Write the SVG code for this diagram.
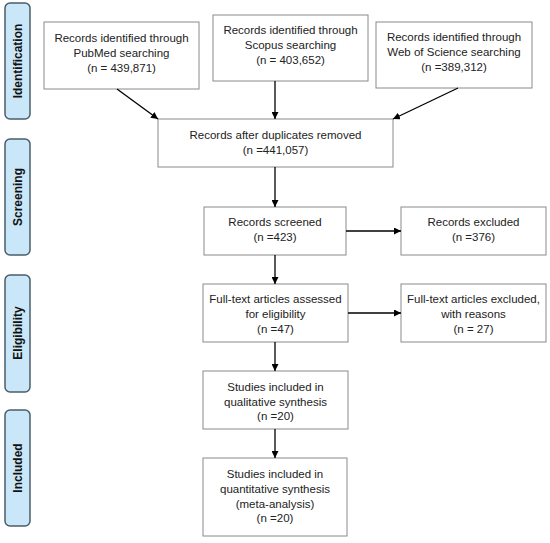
<svg xmlns="http://www.w3.org/2000/svg" width="550" height="543" viewBox="0 0 550 543">
<defs>
<marker id="ah" viewBox="0 0 10 10" refX="10" refY="5" markerWidth="7" markerHeight="7" orient="auto" markerUnits="userSpaceOnUse">
<path d="M0,0 L10,5 L0,10 z" fill="#000"/>
</marker>
<style>
.phase{fill:#c9e7f8;stroke:#4a5e6a;stroke-width:1.5}
.pt{font-family:"Liberation Sans",Arial,sans-serif;font-size:12px;font-weight:bold;fill:#111;text-anchor:middle}
.box{fill:#fff;stroke:#8a8a8a;stroke-width:1}
.t{font-family:"Liberation Sans",Arial,sans-serif;font-size:11.5px;fill:#222;text-anchor:middle}
.c{stroke:#000;stroke-width:1.3;fill:none;marker-end:url(#ah)}
</style>
</defs>
<rect width="550" height="543" fill="#fff"/>
<g id="phase-identification"><rect class="phase" x="5" y="3" width="25" height="116" rx="5"/><text class="pt" transform="translate(22,61) rotate(-90)">Identification</text></g>
<g id="phase-screening"><rect class="phase" x="5" y="139" width="25" height="116" rx="5"/><text class="pt" transform="translate(22,197) rotate(-90)">Screening</text></g>
<g id="phase-eligibility"><rect class="phase" x="5" y="275" width="25" height="117" rx="5"/><text class="pt" transform="translate(22,333) rotate(-90)">Eligibility</text></g>
<g id="phase-included"><rect class="phase" x="5" y="410" width="25" height="116" rx="5"/><text class="pt" transform="translate(22,468) rotate(-90)">Included</text></g>

<g id="n-pubmed"><rect class="box" x="44" y="22" width="155" height="67"/>
<text class="t" x="121.5" y="42">Records identified through</text><text class="t" x="121.5" y="57">PubMed searching</text><text class="t" x="121.5" y="72">(n = 439,871)</text></g>
<g id="n-scopus"><rect class="box" x="213" y="15" width="155" height="66"/>
<text class="t" x="290.5" y="34">Records identified through</text><text class="t" x="290.5" y="49">Scopus searching</text><text class="t" x="290.5" y="64">(n = 403,652)</text></g>
<g id="n-wos"><rect class="box" x="376" y="22" width="156" height="66"/>
<text class="t" x="454" y="41">Records identified through</text><text class="t" x="454" y="56">Web of Science searching</text><text class="t" x="454" y="71">(n =389,312)</text></g>
<g id="n-dup"><rect class="box" x="158" y="119" width="235" height="48"/>
<text class="t" x="275.5" y="139">Records after duplicates removed</text><text class="t" x="275.5" y="154">(n =441,057)</text></g>
<g id="n-screened"><rect class="box" x="204" y="207" width="142" height="48"/>
<text class="t" x="275" y="226">Records screened</text><text class="t" x="275" y="241">(n =423)</text></g>
<g id="n-excluded"><rect class="box" x="401" y="207" width="145" height="48"/>
<text class="t" x="473.5" y="226">Records excluded</text><text class="t" x="473.5" y="241">(n =376)</text></g>
<g id="n-fulltext"><rect class="box" x="203" y="284" width="145" height="58"/>
<text class="t" x="275.5" y="303">Full-text articles assessed</text><text class="t" x="275.5" y="318">for eligibility</text><text class="t" x="275.5" y="333">(n =47)</text></g>
<g id="n-ftexcluded"><rect class="box" x="401" y="284" width="145" height="58"/>
<text class="t" x="473.5" y="303">Full-text articles excluded,</text><text class="t" x="473.5" y="318">with reasons</text><text class="t" x="473.5" y="333">(n = 27)</text></g>
<g id="n-qual"><rect class="box" x="203" y="371" width="145" height="58"/>
<text class="t" x="275.5" y="391">Studies included in</text><text class="t" x="275.5" y="406">qualitative synthesis</text><text class="t" x="275.5" y="420">(n =20)</text></g>
<g id="n-quant"><rect class="box" x="203" y="458" width="144" height="78"/>
<text class="t" x="275" y="478">Studies included in</text><text class="t" x="275" y="493">quantitative synthesis</text><text class="t" x="275" y="508">(meta-analysis)</text><text class="t" x="275" y="522">(n =20)</text></g>

<g id="connectors">
<line class="c" x1="117" y1="89" x2="158" y2="119"/>
<line class="c" x1="275" y1="81" x2="275" y2="119"/>
<line class="c" x1="458" y1="88" x2="393" y2="119"/>
<line class="c" x1="275" y1="167" x2="275" y2="207"/>
<line class="c" x1="346" y1="231" x2="401" y2="231"/>
<line class="c" x1="275" y1="255" x2="275" y2="284"/>
<line class="c" x1="348" y1="313" x2="401" y2="313"/>
<line class="c" x1="275" y1="342" x2="275" y2="371"/>
<line class="c" x1="275" y1="429" x2="275" y2="458"/>
</g>
</svg>
